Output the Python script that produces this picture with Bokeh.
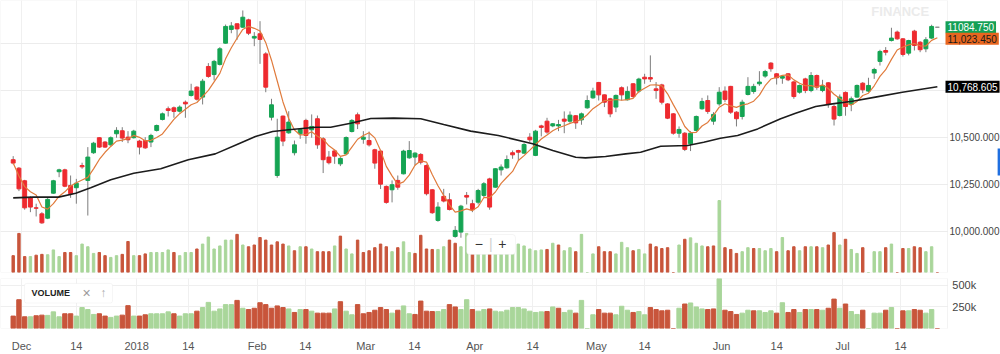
import pandas as pd
from bokeh.plotting import figure
from bokeh.models import Range1d, FixedTicker, Label, BoxAnnotation, ColumnDataSource
from bokeh.layouts import column
from bokeh.embed import file_html
from bokeh.resources import INLINE

# ---------------- data ----------------
opens = [10380, 10335, 10268, 10177, 10124, 10092, 10069, 10202, 10316, 10326,
         10243, 10231, 10349, 10270, 10417, 10497, 10474, 10459, 10518, 10534,
         10500, 10497, 10479, 10482, 10474, 10536, 10594, 10651, 10656, 10638,
         10686, 10722, 10766, 10713, 10876, 10833, 10887, 11000, 11073, 11103,
         11085, 11124, 11027, 11050, 10943, 10606, 10296, 10612, 10523, 10417,
         10518, 10589, 10539, 10598, 10491, 10394, 10427, 10358, 10411, 10530,
         10619, 10489, 10482, 10433, 10426, 10238, 10220, 10270, 10305, 10390,
         10394, 10408, 10349, 10220, 10057, 10185, 10167, 9972, 9995, 10190,
         10146, 10154, 10190, 10278, 10234, 10326, 10337, 10417, 10429, 10415,
         10500, 10403, 10560, 10585, 10560, 10560, 10596, 10585, 10614, 10592,
         10656, 10709, 10791, 10725, 10704, 10660, 10763, 10699, 10784, 10745,
         10819, 10817, 10757, 10778, 10677, 10624, 10521, 10521, 10465, 10536,
         10651, 10695, 10585, 10677, 10745, 10770, 10633, 10610, 10727, 10743,
         10784, 10825, 10894, 10837, 10814, 10837, 10794, 10739, 10810, 10748,
         10828, 10748, 10789, 10663, 10615, 10738, 10674, 10713, 10787, 10745,
         10841, 10903, 10961, 11014, 11059, 11023, 10947, 11064, 11005, 10970,
         11027, 11084.75]
highs = [10399, 10341, 10273, 10185, 10146, 10101, 10181, 10273, 10332, 10332,
         10296, 10278, 10364, 10447, 10475, 10500, 10479, 10504, 10553, 10553,
         10532, 10539, 10486, 10500, 10518, 10567, 10631, 10663, 10663, 10669,
         10695, 10784, 10771, 10810, 10894, 10911, 10979, 11099, 11112, 11106,
         11174, 11130, 11059, 11117, 10952, 10704, 10598, 10615, 10638, 10482,
         10548, 10598, 10621, 10615, 10500, 10426, 10433, 10394, 10504, 10596,
         10631, 10532, 10530, 10438, 10433, 10243, 10270, 10296, 10433, 10479,
         10420, 10415, 10355, 10224, 10154, 10225, 10202, 10027, 10140, 10208,
         10167, 10225, 10261, 10284, 10335, 10355, 10403, 10429, 10433, 10468,
         10521, 10539, 10566, 10603, 10575, 10592, 10637, 10637, 10617, 10631,
         10722, 10763, 10794, 10727, 10709, 10727, 10770, 10770, 10787, 10816,
         10837, 10935, 10793, 10784, 10681, 10628, 10557, 10527, 10532, 10615,
         10709, 10722, 10633, 10766, 10770, 10773, 10638, 10699, 10819, 10784,
         10851, 10858, 10899, 10841, 10828, 10841, 10798, 10780, 10816, 10846,
         10833, 10805, 10793, 10674, 10727, 10743, 10716, 10780, 10793, 10816,
         10869, 10965, 10979, 11082, 11067, 11027, 11018, 11071, 11011, 11032,
         11098, 11084.75]
lows = [10355, 10213, 10114, 10101, 10078, 10039, 10064, 10199, 10287, 10234,
        10177, 10146, 10332, 10083, 10411, 10443, 10443, 10454, 10497, 10474,
        10468, 10493, 10408, 10438, 10447, 10530, 10589, 10610, 10603, 10631,
        10603, 10716, 10695, 10674, 10816, 10802, 10881, 10997, 11053, 11018,
        11082, 11043, 10984, 10890, 10739, 10589, 10284, 10452, 10518, 10403,
        10491, 10465, 10497, 10438, 10309, 10355, 10358, 10346, 10408, 10525,
        10543, 10465, 10450, 10332, 10224, 10146, 10153, 10220, 10302, 10385,
        10349, 10355, 10190, 10092, 10050, 10153, 10110, 9965, 9965, 10142,
        10101, 10142, 10181, 10114, 10231, 10296, 10332, 10385, 10376, 10411,
        10474, 10399, 10504, 10518, 10553, 10532, 10521, 10576, 10544, 10566,
        10651, 10704, 10695, 10660, 10606, 10633, 10695, 10695, 10709, 10734,
        10784, 10793, 10704, 10674, 10596, 10513, 10497, 10426, 10426, 10530,
        10646, 10624, 10566, 10667, 10686, 10624, 10557, 10594, 10722, 10731,
        10773, 10816, 10848, 10780, 10784, 10798, 10704, 10731, 10734, 10739,
        10752, 10739, 10656, 10562, 10610, 10614, 10638, 10709, 10734, 10739,
        10810, 10881, 10935, 11009, 11018, 10929, 10935, 10961, 10952, 10952,
        11023, 11084.75]
closes = [10362, 10225, 10124, 10128, 10122, 10044, 10169, 10268, 10326, 10239,
          10199, 10255, 10342, 10394, 10468, 10447, 10447, 10497, 10536, 10495,
          10486, 10532, 10447, 10443, 10509, 10562, 10624, 10642, 10637, 10660,
          10677, 10745, 10702, 10798, 10823, 10903, 10970, 11089, 11092, 11076,
          11138, 11053, 11036, 11020, 10766, 10672, 10500, 10479, 10580, 10459,
          10541, 10509, 10557, 10459, 10380, 10364, 10399, 10387, 10498, 10589,
          10571, 10500, 10459, 10362, 10250, 10153, 10247, 10234, 10426, 10429,
          10415, 10367, 10199, 10098, 10128, 10160, 10115, 10004, 10133, 10181,
          10114, 10216, 10252, 10128, 10332, 10341, 10381, 10406, 10420, 10461,
          10486, 10532, 10552, 10527, 10571, 10567, 10585, 10617, 10576, 10624,
          10695, 10745, 10725, 10686, 10624, 10722, 10725, 10743, 10716, 10809,
          10810, 10809, 10748, 10686, 10601, 10521, 10541, 10435, 10521, 10610,
          10690, 10637, 10621, 10739, 10700, 10633, 10598, 10686, 10770, 10770,
          10793, 10849, 10864, 10816, 10823, 10805, 10716, 10775, 10748, 10828,
          10766, 10775, 10677, 10596, 10713, 10663, 10704, 10775, 10752, 10775,
          10860, 10956, 10952, 11027, 11023, 10940, 11014, 10988, 10965, 11018,
          11089, 11084.75]
volumes_k = [144, 334, 136, 136, 148, 155, 152, 193, 136, 171,
             171, 144, 243, 220, 163, 171, 144, 129, 144, 155,
             265, 144, 144, 159, 171, 171, 171, 193, 171, 144,
             171, 171, 201, 243, 303, 201, 227, 277, 277, 326,
             235, 220, 235, 299, 277, 235, 262, 243, 227, 186,
             220, 220, 201, 178, 178, 178, 227, 311, 201, 159,
             277, 171, 186, 212, 243, 220, 178, 212, 262, 171,
             163, 318, 201, 197, 197, 220, 277, 250, 220, 334,
             220, 201, 220, 227, 201, 193, 212, 243, 243, 227,
             201, 186, 193, 197, 250, 235, 186, 212, 178, 326,
             0, 159, 220, 178, 178, 159, 258, 212, 186, 197,
             159, 243, 220, 205, 212, 0, 235, 284, 296, 250,
             227, 220, 227, 615, 212, 197, 163, 178, 212, 205,
             205, 186, 205, 178, 299, 186, 220, 186, 220, 220,
             220, 212, 235, 341, 235, 284, 197, 163, 212, 0,
             178, 178, 212, 243, 0, 205, 205, 220, 212, 178,
             220, 0]

# long moving average, read at points along the line (x = bar index)
ma_long_x = [0, 3.5, 7.9, 10.9, 13.5, 17, 21, 25.7, 30.5, 35.2, 39.3, 42.2, 45.2, 48,
             52.7, 55.3, 58.8, 62.3, 66.3, 71, 75, 79.7, 84.5, 90.5, 94, 98, 99.7,
             103.2, 106.7, 109.3, 112.8, 117.5, 120.3, 123.2, 126.2, 129.7, 133.7,
             136.3, 139.8, 142.7, 146.2, 150.2, 154.9, 161]
ma_long_y = [10177, 10181, 10181, 10202, 10231, 10273, 10308, 10332, 10380, 10411,
             10465, 10503, 10530, 10539, 10553, 10553, 10574, 10599, 10601, 10598,
             10567, 10532, 10509, 10465, 10429, 10393, 10390, 10397, 10411, 10420,
             10452, 10456, 10473, 10494, 10509, 10544, 10598, 10627, 10663, 10677,
             10691, 10713, 10739, 10768.605]

tick_pos = [1.45, 11.0, 21.5, 30.5, 42.5, 50.9, 61.4, 69.9, 80.4, 90.5,
            101.6, 110.0, 123.4, 133.0, 144.5, 154.6]
tick_labels = ["Dec", "14", "2018", "14", "Feb", "14", "Mar", "14", "Apr", "14",
               "May", "14", "Jun", "14", "Jul", "14"]
price_ticks = [10000, 10250, 10500]
price_grid = [10000, 10250, 10500, 10750, 11000]
vol_ticks = [250, 500]
vol_tick_labels = ["250k", "500k"]
tag_values = [11084.750, 11023.450, 10768.605]
tag_texts = ["11084.750", "11,023.450", "10,768.605"]

# ---------------- derived ----------------
n = len(closes)
idx = list(range(n))
UP, DOWN, FLAT = "#15a453", "#ee2a2f", "#8a8a8a"
VUP, VDOWN = "#a9d69a", "#c8553b"
ccol = [UP if c > o else (DOWN if c < o else FLAT) for o, c in zip(opens, closes)]
vcol = [VDOWN] + [VUP if closes[i] > closes[i - 1] else VDOWN for i in range(1, n)]
sma5 = pd.Series(closes).rolling(5, min_periods=1).mean().tolist()

src = ColumnDataSource(dict(
    x=idx, o=opens, h=highs, l=lows, c=closes,
    bot=[min(o, c) for o, c in zip(opens, closes)],
    top=[max(o, c) for o, c in zip(opens, closes)],
    ccol=ccol, vol=volumes_k, vcol=vcol, sma=sma5))

FONT = "Liberation Sans"
X0, X1 = -2.2125, 172.0          # frame spans the whole width
XEDGE = 162.77                    # right edge of the chart area (axis line)
XLAB = 163.1                      # where the right-hand labels start
xr = Range1d(X0, X1)

def common(fig):
    fig.outline_line_color = None
    fig.background_fill_color = "white"
    fig.border_fill_color = "white"
    fig.xgrid.ticker = FixedTicker(ticks=tick_pos)
    fig.xgrid.grid_line_color = "#f0f0f0"
    # blank label area on the right
    fig.add_layout(BoxAnnotation(left=XEDGE, fill_color="white", fill_alpha=1,
                                 line_color=None, level="underlay"))
    # panel border (ends at the axis line)
    fig.add_layout(BoxAnnotation(right=XEDGE, fill_alpha=0, line_color="#d4d4d4",
                                 line_width=1, level="guide"))

# ---------------- main panel ----------------
p = figure(width=1000, height=275, x_range=xr, y_range=Range1d(9780, 11227),
           x_axis_location=None, y_axis_location=None,
           output_backend="svg", toolbar_location=None,
           min_border_left=0, min_border_top=0, min_border_bottom=3, min_border_right=0)
p.extra_y_ranges = {"vol": Range1d(0, 2325)}
p.ygrid.ticker = FixedTicker(ticks=price_grid)
p.ygrid.grid_line_color = "#ececec"
common(p)

p.vbar(x="x", top="vol", width=0.42, color="vcol", y_range_name="vol", source=src)
p.segment(x0="x", y0="l", x1="x", y1="h", color="#7d7d7d", line_width=1, source=src)
p.vbar(x="x", bottom="bot", top="top", width=0.68, fill_color="ccol", line_color="ccol",
       line_width=1, source=src)
p.line(x="x", y="sma", color="#e07b3c", line_width=1.2, source=src)
p.line(ma_long_x, ma_long_y, color="#1c1c1c", line_width=1.6)

# price scale labels
for v in price_ticks:
    p.add_layout(Label(x=XLAB, y=v, text=f"{v:,.3f}", text_align="left",
                       text_baseline="middle", text_color="#444444", text_font=FONT,
                       text_font_size="10px"))

# price tags on the axis
tag_bg = ["#15a055", "#e8661f", "#000000"]
tag_fg = ["white", "#1a1a1a", "white"]
for v, t, bg, fg in zip(tag_values, tag_texts, tag_bg, tag_fg):
    p.add_layout(Label(x=162.42, y=v, text=t, text_align="left", text_baseline="middle",
                       background_fill_color=bg, text_color=fg, text_font=FONT,
                       text_font_size="10px", padding=2))

# watermark
p.add_layout(Label(x=149.5, y=11166, text="FINANCE", text_align="left",
                   text_baseline="alphabetic", text_color="#ebebeb", text_font=FONT,
                   text_font_size="13px", text_font_style="bold"))

# zoom control box
p.add_layout(BoxAnnotation(left=79.0, right=87.5, bottom=9876, top=9982,
                           fill_color="white", fill_alpha=1, line_color="#dddddd",
                           border_radius=3, level="overlay"))
for xx, t, col in [(81.1, "\u2212", "#333333"), (83.2, "|", "#d0d0d0"), (85.2, "+", "#333333")]:
    p.add_layout(Label(x=xx, y=9929, text=t, text_align="center", text_baseline="middle",
                       text_color=col, text_font=FONT, text_font_size="14px", level="overlay"))

# blue handle at right edge
p.add_layout(BoxAnnotation(left=171.5, bottom=10296, top=10440, fill_color="#1f6fe0",
                           fill_alpha=1, line_color=None))

# ---------------- volume panel ----------------
q = figure(width=1000, height=79, x_range=xr, y_range=Range1d(0, 580),
           y_axis_location=None, output_backend="svg", toolbar_location=None,
           min_border_left=0, min_border_top=3, min_border_bottom=25, min_border_right=0)
q.ygrid.ticker = FixedTicker(ticks=vol_ticks)
q.ygrid.grid_line_color = "#efefef"
common(q)

qx = q.xaxis[0]
qx.ticker = FixedTicker(ticks=tick_pos)
qx.major_label_overrides = {float(k): v for k, v in zip(tick_pos, tick_labels)}
qx.axis_line_color = None
qx.major_tick_line_color = None
qx.minor_tick_line_color = None
qx.major_label_standoff = 5
qx.major_label_text_font = FONT
qx.major_label_text_font_size = "11px"
qx.major_label_text_color = "#555555"

q.vbar(x="x", top="vol", width=0.76, color="vcol", source=src)

for v, t in zip(vol_ticks, vol_tick_labels):
    q.add_layout(Label(x=163.6, y=v, text=t, text_align="left", text_baseline="middle",
                       text_color="#444444", text_font=FONT, text_font_size="11px"))

q.add_layout(BoxAnnotation(left=1.97, right=17.3, bottom=296, top=523,
                           fill_color="white", fill_alpha=1, line_color="#e0e0e0",
                           border_radius=2, level="overlay"))
q.add_layout(Label(x=3.2, y=409, text="VOLUME", text_align="left", text_baseline="middle",
                   text_color="#222222", text_font=FONT, text_font_size="9px",
                   text_font_style="bold", level="overlay"))
q.add_layout(Label(x=12.8, y=409, text="\u00d7", text_align="center", text_baseline="middle",
                   text_color="#999999", text_font=FONT, text_font_size="14px", level="overlay"))
q.add_layout(Label(x=15.7, y=409, text="\u2191", text_align="center", text_baseline="middle",
                   text_color="#aaaaaa", text_font=FONT, text_font_size="12px", level="overlay"))

layout = column(p, q, spacing=0)
open("out.html", "w").write(file_html(layout, INLINE))
